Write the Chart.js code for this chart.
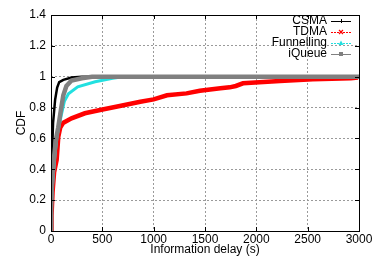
<!DOCTYPE html>
<html>
<head>
<meta charset="utf-8">
<script src="https://cdn.jsdelivr.net/npm/chart.js@4.4.0/dist/chart.umd.min.js"></script>
<style>
  html, body { margin: 0; padding: 0; background: #fff; }
  #wrap { width: 378px; height: 257px; }
</style>
</head>
<body>
<div id="wrap"><canvas id="c" width="378" height="257"></canvas></div>
<script>
const xTicks = [0, 500, 1000, 1500, 2000, 2500, 3000];
const yTicks = [0, 0.2, 0.4, 0.6, 0.8, 1, 1.2, 1.4];
const seriesNames = ['CSMA', 'TDMA', 'Funnelling', 'iQueue'];

const csmaDelay = [0, 2, 5, 10, 20, 40, 60, 80, 120, 200, 300, 3000];
const csmaCdf   = [0, 0.1, 0.25, 0.5, 0.7, 0.85, 0.93, 0.965, 0.98, 0.995, 1.0, 1.0];

const tdmaDelay = [0, 5, 15, 30, 55, 71, 90, 117, 200, 330, 490, 670, 870, 1000, 1130, 1320, 1450, 1650, 1740, 1800, 1870, 2230, 2550, 2920, 2990];
const tdmaCdf   = [0, 0.1, 0.25, 0.38, 0.46, 0.61, 0.67, 0.70, 0.73, 0.763, 0.786, 0.81, 0.838, 0.853, 0.88, 0.892, 0.909, 0.925, 0.931, 0.94, 0.957, 0.972, 0.983, 0.99, 0.995];

const funnDelay = [0, 5, 15, 40, 60, 100, 130, 170, 260, 430, 600, 700, 3000];
const funnCdf   = [0, 0.15, 0.3, 0.5, 0.62, 0.75, 0.84, 0.89, 0.935, 0.967, 0.99, 1.0, 1.0];

const iqDelay = [0, 1, 2, 10, 25, 50, 70, 100, 120, 150, 200, 300, 400, 3000];
const iqCdf   = [0, 0.1, 0.2, 0.3, 0.45, 0.6, 0.67, 0.8, 0.88, 0.94, 0.975, 0.99, 1.0, 1.0];

const colors = ['#000000', '#ff0000', '#22e0e0', '#808080'];
const widths = [2.5, 4.5, 3, 4.5];

function pts(xs, ys) { return xs.map((x, i) => ({ x: x, y: ys[i] })); }
const allData = [pts(csmaDelay, csmaCdf), pts(tdmaDelay, tdmaCdf), pts(funnDelay, funnCdf), pts(iqDelay, iqCdf)];
const orders = [3, 2, 1, 0];

const FONT = 'Liberation Sans, Arial, sans-serif';

const framePlugin = {
  id: 'frame',
  afterDatasetsDraw(chart) {
    const ctx = chart.ctx, a = chart.chartArea;
    const xs = chart.scales.x, ys = chart.scales.y;
    ctx.save();
    ctx.strokeStyle = '#000';
    ctx.lineWidth = 1;
    ctx.strokeRect(Math.round(a.left) + 0.5, Math.round(a.top) + 0.5, Math.round(a.right - a.left), Math.round(a.bottom - a.top));
    ctx.beginPath();
    xTicks.forEach(v => {
      const px = Math.round(xs.getPixelForValue(v)) + 0.5;
      ctx.moveTo(px, a.bottom); ctx.lineTo(px, a.bottom - 4);
      ctx.moveTo(px, a.top); ctx.lineTo(px, a.top + 4);
    });
    yTicks.forEach(v => {
      const py = Math.round(ys.getPixelForValue(v)) + 0.5;
      ctx.moveTo(a.left, py); ctx.lineTo(a.left + 4, py);
      ctx.moveTo(a.right, py); ctx.lineTo(a.right - 4, py);
    });
    ctx.stroke();

    ctx.font = '12px ' + FONT;
    ctx.textAlign = 'right';
    ctx.textBaseline = 'middle';
    const lx = 327, l0 = 331, l1 = 351, yStart = 21, dy = 11;
    seriesNames.forEach((name, i) => {
      const y = yStart + i * dy;
      ctx.fillStyle = '#000';
      ctx.fillText(name, lx, y);
      ctx.strokeStyle = colors[i];
      ctx.lineWidth = 1;
      ctx.setLineDash(i === 1 || i === 2 ? [2, 1] : []);
      ctx.beginPath(); ctx.moveTo(l0, y + 0.5); ctx.lineTo(l1, y + 0.5); ctx.stroke();
      ctx.setLineDash([]);
      const mx = (l0 + l1) / 2;
      ctx.fillStyle = colors[i];
      ctx.beginPath();
      if (i === 0) { ctx.moveTo(mx - 2, y + 0.5); ctx.lineTo(mx + 2, y + 0.5); ctx.moveTo(mx + 0.5, y - 2); ctx.lineTo(mx + 0.5, y + 2); ctx.stroke(); }
      else if (i === 1) { ctx.lineWidth = 1.2; ctx.moveTo(mx - 2, y - 2); ctx.lineTo(mx + 2, y + 2); ctx.moveTo(mx + 2, y - 2); ctx.lineTo(mx - 2, y + 2); ctx.stroke(); }
      else if (i === 2) { ctx.moveTo(mx, y - 2.5); ctx.lineTo(mx + 2.5, y + 2); ctx.lineTo(mx - 2.5, y + 2); ctx.closePath(); ctx.fill(); }
      else { ctx.fillRect(mx - 2, y - 2, 4, 4); }
    });
    ctx.restore();
  }
};

new Chart(document.getElementById('c'), {
  type: 'line',
  data: {
    datasets: allData.map((d, i) => ({
      label: seriesNames[i],
      data: d,
      borderColor: colors[i],
      backgroundColor: colors[i],
      borderWidth: widths[i],
      pointRadius: 0,
      tension: 0,
      fill: false,
      order: orders[i]
    }))
  },
  options: {
    responsive: false,
    animation: false,
    layout: { padding: { top: 15, right: 19, left: 0, bottom: 0 } },
    plugins: { legend: { display: false }, tooltip: { enabled: false } },
    scales: {
      x: {
        type: 'linear', min: 0, max: 3000,
        afterBuildTicks: s => { s.ticks = xTicks.map(v => ({ value: v })); },
        afterFit: s => { s.height = 26; },
        ticks: { color: '#000', font: { family: FONT, size: 12 }, padding: 1, maxRotation: 0, autoSkip: false, callback: v => String(v) },
        grid: { color: '#9a9a9a', borderDash: [2, 2], drawTicks: false, lineWidth: 1 },
        border: { display: false, dash: [2, 2] },
        title: { display: true, text: 'Information delay (s)', color: '#000', font: { family: FONT, size: 12 }, padding: { top: -1, bottom: 0 } }
      },
      y: {
        type: 'linear', min: 0, max: 1.4,
        afterBuildTicks: s => { s.ticks = yTicks.map(v => ({ value: v })); },
        afterFit: s => { s.width = 51; },
        ticks: { color: '#000', font: { family: FONT, size: 12 }, padding: 5, autoSkip: false, callback: v => String(v) },
        grid: { color: '#9a9a9a', borderDash: [2, 2], drawTicks: false, lineWidth: 1 },
        border: { display: false, dash: [2, 2] },
        title: { display: true, text: 'CDF', color: '#000', font: { family: FONT, size: 12 }, padding: { top: 14, bottom: 0 } }
      }
    }
  },
  plugins: [framePlugin]
});
</script>
</body>
</html>
